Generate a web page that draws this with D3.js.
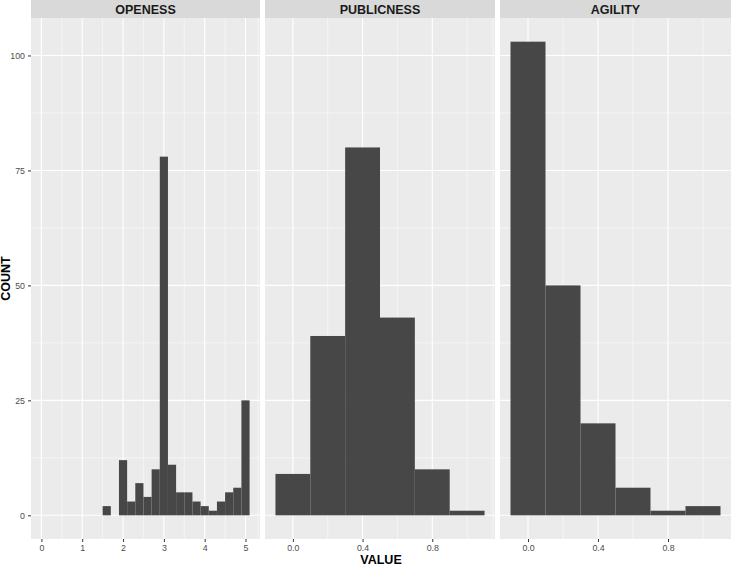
<!DOCTYPE html>
<html><head><meta charset="utf-8">
<script src="https://cdn.jsdelivr.net/npm/d3@7"></script>
<style>body{margin:0;background:#fff}</style>
</head><body>
<script>
// panel names
const panels = ["OPENESS", "PUBLICNESS", "AGILITY"];

// histogram bins: [x0, x1, count]
const openessBins = [[1.5,1.7,2],[1.9,2.1,12],[2.1,2.3,3],[2.3,2.5,7],[2.5,2.7,4],[2.7,2.9,10],[2.9,3.1,78],[3.1,3.3,11],[3.3,3.5,5],[3.5,3.7,5],[3.7,3.9,3],[3.9,4.1,2],[4.1,4.3,1],[4.3,4.5,3],[4.5,4.7,5],[4.7,4.9,6],[4.9,5.1,25]];
const publicnessBins = [[-0.1,0.1,9],[0.1,0.3,39],[0.3,0.5,80],[0.5,0.7,43],[0.7,0.9,10],[0.9,1.1,1]];
const agilityBins = [[-0.1,0.1,103],[0.1,0.3,50],[0.3,0.5,20],[0.5,0.7,6],[0.7,0.9,1],[0.9,1.1,2]];

const xDomains = [[-0.255, 5.355], [-0.16, 1.16], [-0.16, 1.16]];
const xTicks = [[0,1,2,3,4,5], [0,0.4,0.8], [0,0.4,0.8]];
const xMinor = [[0.5,1.5,2.5,3.5,4.5], [-0.2,0.2,0.6,1.0], [-0.2,0.2,0.6,1.0]];
const xFormats = [d3.format("d"), d3.format(".1f"), d3.format(".1f")];
const yTicks = [0, 25, 50, 75, 100];
const yMinor = [12.5, 37.5, 62.5, 87.5];
const allBins = [openessBins, publicnessBins, agilityBins];

const W = 731, H = 568;
const svg = d3.select("body").append("svg").attr("width", W).attr("height", H)
    .style("font-family", "Liberation Sans, Arial, sans-serif");

const panelX = [[31, 260], [265, 495], [500, 731]];
const stripH = 18, plotTop = 18, plotBottom = 539;

const y = d3.scaleLinear().domain([-5.15, 108.15]).range([plotBottom, plotTop]);

panels.forEach((name, i) => {
    const [x0, x1] = panelX[i];
    const x = d3.scaleLinear().domain(xDomains[i]).range([x0, x1]);
    const g = svg.append("g");

    // strip
    g.append("rect").attr("x", x0).attr("y", 0).attr("width", x1 - x0).attr("height", stripH).attr("fill", "#d9d9d9");
    g.append("text").attr("x", (x0 + x1) / 2).attr("y", 13.5).attr("text-anchor", "middle")
        .style("font-size", "12.5px").style("font-weight", "bold").attr("fill", "#1a1a1a").text(name);

    // panel bg
    g.append("rect").attr("x", x0).attr("y", plotTop).attr("width", x1 - x0).attr("height", plotBottom - plotTop).attr("fill", "#ebebeb");

    // grid
    g.selectAll(".ymin").data(yMinor).join("line")
        .attr("x1", x0).attr("x2", x1).attr("y1", d => y(d)).attr("y2", d => y(d))
        .attr("stroke", "#fff").attr("stroke-width", 0.5);
    g.selectAll(".xmin").data(xMinor[i]).join("line")
        .attr("y1", plotTop).attr("y2", plotBottom).attr("x1", d => x(d)).attr("x2", d => x(d))
        .attr("stroke", "#fff").attr("stroke-width", 0.5);
    g.selectAll(".ymaj").data(yTicks).join("line")
        .attr("x1", x0).attr("x2", x1).attr("y1", d => y(d)).attr("y2", d => y(d))
        .attr("stroke", "#fff").attr("stroke-width", 1.1);
    g.selectAll(".xmaj").data(xTicks[i]).join("line")
        .attr("y1", plotTop).attr("y2", plotBottom).attr("x1", d => x(d)).attr("x2", d => x(d))
        .attr("stroke", "#fff").attr("stroke-width", 1.1);

    // bars
    g.selectAll(".bar").data(allBins[i]).join("rect")
        .attr("x", d => x(d[0])).attr("width", d => x(d[1]) - x(d[0]))
        .attr("y", d => y(d[2])).attr("height", d => y(0) - y(d[2]))
        .attr("fill", "#474747");

    // x axis
    const xa = g.append("g").attr("transform", `translate(0,${plotBottom})`)
        .call(d3.axisBottom(x).tickValues(xTicks[i]).tickFormat(xFormats[i]).tickSize(3).tickPadding(3));
    xa.select(".domain").remove();
    xa.selectAll("line").attr("stroke", "#333");
    xa.selectAll("text").attr("fill", "#4d4d4d").style("font-size", "8.8px").style("font-family", "Liberation Sans, Arial, sans-serif");
});

// y axis
const ya = svg.append("g").attr("transform", `translate(${panelX[0][0]},0)`)
    .call(d3.axisLeft(y).tickValues(yTicks).tickSize(3).tickPadding(3));
ya.select(".domain").remove();
ya.selectAll("line").attr("stroke", "#333");
ya.selectAll("text").attr("fill", "#4d4d4d").style("font-size", "8.8px").style("font-family", "Liberation Sans, Arial, sans-serif");

// axis titles
svg.append("text").attr("x", (panelX[0][0] + W) / 2).attr("y", 564).attr("text-anchor", "middle")
    .style("font-size", "12.5px").style("font-weight", "bold").text("VALUE");
svg.append("text").attr("transform", `translate(10,${(plotTop + plotBottom) / 2}) rotate(-90)`).attr("text-anchor", "middle")
    .style("font-size", "12.5px").style("font-weight", "bold").text("COUNT");
</script>
</body></html>
